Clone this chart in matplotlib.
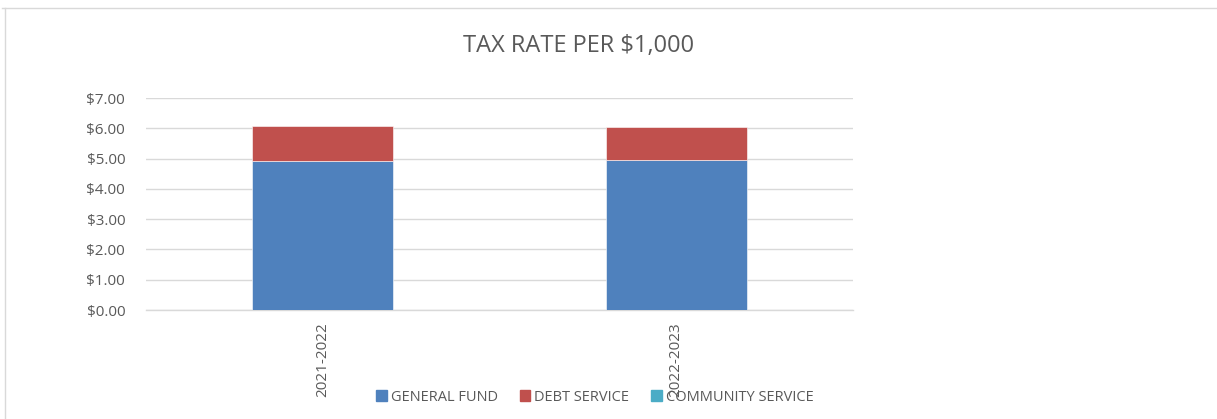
import matplotlib
matplotlib.use("Agg")
import matplotlib.pyplot as plt
from matplotlib.lines import Line2D
from matplotlib.ticker import FuncFormatter, MultipleLocator

plt.rcParams['font.family'] = ['Open Sans', 'DejaVu Sans']

categories = ["2021-2022", "2022-2023"]
general_fund = [4.93, 4.96]
debt_service = [1.14, 1.07]
community_service = [0.0, 0.0]
series_names = ["GENERAL FUND", "DEBT SERVICE", "COMMUNITY SERVICE"]
colors = ["#4F81BD", "#C0504D", "#4BACC6"]
text_color = "#595959"
grid_color = "#D9D9D9"

W, H = 1217, 419
fig = plt.figure(figsize=(W / 100, H / 100), dpi=100)
ax = fig.add_axes([146 / W, 1 - 310 / H, (853 - 146) / W, (310 - 98) / H])

x = list(range(len(categories)))
bw = 0.4
ax.bar(x, general_fund, bw, color=colors[0], edgecolor="#FFFFFF", linewidth=0.4, zorder=3)
ax.bar(x, debt_service, bw, bottom=general_fund, color=colors[1], edgecolor="#FFFFFF", linewidth=0.4, zorder=3)
bottom3 = [g + d for g, d in zip(general_fund, debt_service)]
ax.bar(x, community_service, bw, bottom=bottom3, color=colors[2], linewidth=0, zorder=3)

ax.set_xlim(-0.5, len(categories) - 0.5)
ax.set_ylim(0, 7)
ax.yaxis.set_major_locator(MultipleLocator(1))
ax.yaxis.set_major_formatter(FuncFormatter(lambda v, p: f"${v:.2f}"))
ax.grid(axis="y", color=grid_color, linewidth=1, zorder=0)
for s in ["top", "right", "left"]:
    ax.spines[s].set_visible(False)
ax.spines["bottom"].set_color(grid_color)
ax.spines["bottom"].set_linewidth(1)
ax.tick_params(axis="both", length=0, colors=text_color, labelsize=11)
ax.tick_params(axis="y", pad=15)
ax.tick_params(axis="x", pad=9)
ax.set_xticks(x)
ax.set_xticklabels(categories, rotation=90, va="top", ha="center")

fig.text(579 / W, 1 - 46 / H, "TAX RATE PER $1,000", ha="center", va="center",
         fontsize=17, color=text_color)

handles = [plt.Rectangle((0, 0), 1, 1, color=c) for c in colors]
fig.legend(handles, series_names, loc="center", bbox_to_anchor=(595 / W, 1 - 397 / H),
           ncol=3, frameon=False, fontsize=10.5, handlelength=0.7, handleheight=0.7,
           handletextpad=0.3, columnspacing=1.5, labelcolor=text_color)

fig.add_artist(Line2D([2 / W, 1], [1 - 8.5 / H, 1 - 8.5 / H], transform=fig.transFigure,
                      color=grid_color, linewidth=1))
fig.add_artist(Line2D([4.5 / W, 4.5 / W], [0, 1 - 8.5 / H], transform=fig.transFigure,
                      color=grid_color, linewidth=1))

fig.savefig("out.png", dpi=100)
